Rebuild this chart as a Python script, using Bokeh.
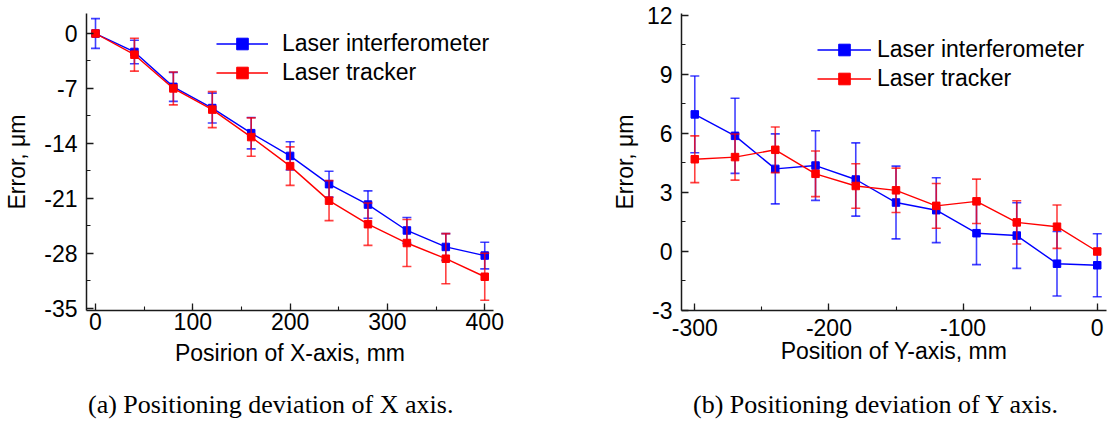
import numpy as np
from bokeh.plotting import figure
from bokeh.models import (ColumnDataSource, Legend, LegendItem, FixedTicker,
                          SingleIntervalTicker, Range1d, Div)
from bokeh.layouts import row, column
from bokeh.embed import file_html
from bokeh.resources import INLINE

# ---------------- data : (a) X axis ----------------
x_pos = [0, 40, 80, 120, 160, 200, 240, 280, 320, 360, 400]
x_interf = [0.0, -2.35, -6.8, -9.5, -12.7, -15.6, -19.2, -21.8, -25.1, -27.2, -28.3]
x_interf_err = [1.9, 1.5, 1.85, 1.9, 2.0, 1.8, 1.65, 1.75, 1.65, 1.7, 1.7]
x_tracker = [0.0, -2.7, -7.0, -9.7, -13.2, -16.9, -21.3, -24.3, -26.7, -28.7, -31.0]
x_tracker_err = [0.0, 2.1, 2.1, 2.3, 2.45, 2.45, 2.55, 2.7, 3.0, 3.2, 3.0]
x_yticks = [-35, -28, -21, -14, -7, 0]
x_xticks = [0, 100, 200, 300, 400]

# ---------------- data : (b) Y axis ----------------
y_pos = [-300, -270, -240, -210, -180, -150, -120, -90, -60, -30, 0]
y_interf = [6.97, 5.88, 4.2, 4.37, 3.66, 2.49, 2.1, 0.93, 0.81, -0.62, -0.70]
y_interf_err = [1.95, 1.91, 1.78, 1.77, 1.86, 1.85, 1.65, 1.6, 1.67, 1.64, 1.6]
y_tracker = [4.69, 4.8, 5.17, 3.95, 3.33, 3.11, 2.32, 2.55, 1.48, 1.26, 0.0]
y_tracker_err = [1.19, 1.17, 1.16, 1.16, 1.13, 1.13, 1.14, 1.13, 1.1, 1.1, 0.0]
y_yticks = [-3, 0, 3, 6, 9, 12]
y_xticks = [-300, -200, -100, 0]

series_names = ["Laser interferometer", "Laser tracker"]
captions = ["(a) Positioning deviation of X axis.", "(b) Positioning deviation of Y axis."]
BLUE = "#0000ff"
RED = "#ff0000"
SANS = "Liberation Sans"
SERIF = "Liberation Serif"
FIG_H = 388
MB_TOP = 13
MB_BOTTOM = 78
CAP_H = 33


def add_series(p, xs, ys, errs, color):
    xs = np.asarray(xs, float)
    ys = np.asarray(ys, float)
    errs = np.asarray(errs, float)
    m = errs > 0
    src = ColumnDataSource(dict(x=xs[m], lo=(ys - errs)[m], hi=(ys + errs)[m]))
    p.segment(x0="x", y0="lo", x1="x", y1="hi", source=src,
              line_color=color, line_alpha=0.75, line_width=1.6)
    p.scatter(x="x", y="hi", source=src, marker="dash", size=9,
              line_color=color, line_alpha=0.75, line_width=1.6)
    p.scatter(x="x", y="lo", source=src, marker="dash", size=9,
              line_color=color, line_alpha=0.75, line_width=1.6)
    ln = p.line(xs, ys, line_color=color, line_width=1.4)
    sc = p.scatter(xs, ys, marker="square", size=7.5, fill_color=color,
                   line_color=color)
    return [ln, sc]


def make_panel(xs, s1, e1, s2, e2, xr, yr, xticks, yticks, ytick_minor,
               xlabel, width, mbl, mbr, leg_loc, glyph_w, leg_standoff,
               ylab_standoff, xtick_standoff, xlab_standoff):
    p = figure(width=width, height=FIG_H, output_backend="svg",
               toolbar_location=None, x_range=Range1d(*xr), y_range=Range1d(*yr),
               min_border_left=mbl, min_border_right=mbr,
               min_border_top=MB_TOP, min_border_bottom=MB_BOTTOM)
    p.outline_line_color = None
    p.grid.visible = False
    p.background_fill_color = "white"
    p.border_fill_color = "white"

    r1 = add_series(p, xs, s1, e1, BLUE)
    r2 = add_series(p, xs, s2, e2, RED)

    p.xaxis.ticker = SingleIntervalTicker(interval=100, num_minor_ticks=2)
    p.yaxis.ticker = FixedTicker(ticks=yticks, minor_ticks=ytick_minor)
    p.xaxis.major_label_overrides = {t: str(t) for t in xticks}
    p.yaxis.major_label_overrides = {t: str(t) for t in yticks}
    for ax in (p.xaxis[0], p.yaxis[0]):
        ax.axis_line_color = "#1a1a1a"
        ax.axis_line_width = 1.5
        ax.major_tick_in = 7
        ax.major_tick_out = 0
        ax.minor_tick_in = 4
        ax.minor_tick_out = 0
        ax.major_tick_line_color = "#1a1a1a"
        ax.minor_tick_line_color = "#1a1a1a"
        ax.major_tick_line_width = 1.3
        ax.minor_tick_line_width = 1.1
        ax.major_label_text_font = SANS
        ax.major_label_text_font_size = "23px"
        ax.major_label_text_color = "black"
        ax.axis_label_text_font = SANS
        ax.axis_label_text_font_size = "23px"
        ax.axis_label_text_font_style = "normal"
        ax.axis_label_text_color = "black"
    p.xaxis.major_label_standoff = xtick_standoff
    p.yaxis.major_label_standoff = 9
    p.xaxis.axis_label = xlabel
    p.yaxis.axis_label = "Error, μm"
    p.yaxis.axis_label_standoff = ylab_standoff
    p.xaxis.axis_label_standoff = xlab_standoff

    legend = Legend(items=[LegendItem(label=series_names[0], renderers=r1),
                           LegendItem(label=series_names[1], renderers=r2)],
                    location=leg_loc, padding=0, margin=0, spacing=0,
                    glyph_width=glyph_w, glyph_height=29, label_height=29,
                    label_standoff=leg_standoff, border_line_color=None,
                    background_fill_alpha=0, label_text_font=SANS,
                    label_text_font_size="23px", label_text_color="black")
    p.add_layout(legend)
    return p


def make_caption(text, width, left):
    html = ('<div style="margin-left:%dpx; margin-top:2px; font-family:\'%s\', serif; '
            'font-size:26px; line-height:29px; color:black; white-space:nowrap;">%s</div>'
            % (left, SERIF, text))
    return Div(text=html, width=width, height=CAP_H, margin=0)


minor_a = [v - 3.5 for v in x_yticks[1:]]
minor_b = [v - 1.5 for v in y_yticks[1:]]

pa = make_panel(x_pos, x_interf, x_interf_err, x_tracker, x_tracker_err,
                (-9.25, 409), (-35.3, 2.55), x_xticks, x_yticks, minor_a,
                "Posirion of X-axis, mm", width=560, mbl=86, mbr=67,
                leg_loc=(130, 223), glyph_w=52, leg_standoff=14,
                ylab_standoff=11, xtick_standoff=2, xlab_standoff=7)

pb = make_panel(y_pos, y_interf, y_interf_err, y_tracker, y_tracker_err,
                (-309.9, 6.9), (-3, 12.1), y_xticks, y_yticks, minor_b,
                "Position of Y-axis, mm", width=548, mbl=121, mbr=2,
                leg_loc=(136, 217), glyph_w=54, leg_standoff=6,
                ylab_standoff=6, xtick_standoff=8, xlab_standoff=-1)

ca = make_caption(captions[0], 560, 88)
cb = make_caption(captions[1], 548, 133)

layout = column(row(pa, pb, spacing=0), row(ca, cb, spacing=0), spacing=0)
open("out.html", "w").write(file_html(layout, INLINE))
